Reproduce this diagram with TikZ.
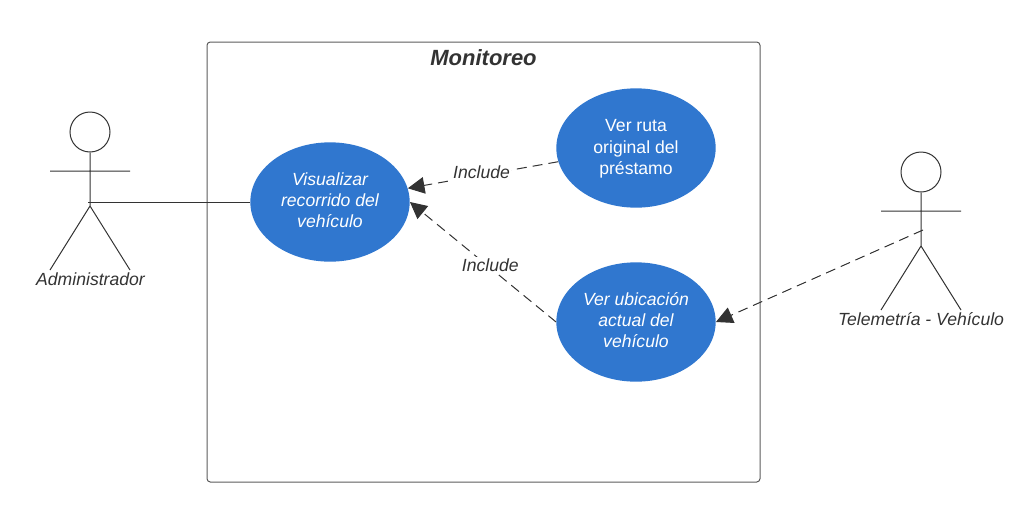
\documentclass[tikz,border=0pt]{standalone}
\usepackage{fontspec}
\setmainfont{Liberation Sans}
\usetikzlibrary{shapes.geometric, positioning, arrows.meta}

\tikzset{
    usecase/.style={ellipse, fill=caseblue, text=white, minimum width=119.5pt, minimum height=89.5pt, inner sep=0pt, align=center, font=\fontsize{13.2}{16}\selectfont},
    actorhead/.style={circle, draw=inkgray, fill=white, minimum size=30pt, inner sep=0pt, line width=0.75pt},
    actorline/.style={draw=inkgray, line width=0.75pt},
    actorname/.style={text=inkgray, inner sep=0pt, font=\fontsize{13.2}{16}\selectfont\itshape},
    includeline/.style={draw=inkgray, line width=0.75pt, dash pattern=on 7.5pt off 4.5pt, -{Triangle[length=12.5pt, width=12.5pt, fill=inkgray]}},
    includename/.style={fill=white, text=inkgray, inner xsep=1pt, inner ysep=1.5pt, font=\fontsize{13.2}{16}\selectfont\itshape}
}
\definecolor{caseblue}{HTML}{3077CF}
\definecolor{inkgray}{HTML}{333333}

\begin{document}
\begin{tikzpicture}[x=0.75pt, y=-0.75pt, node distance=130.5pt, on grid]
        \useasboundingbox (0,0) rectangle (1019,507);

        %% SYSTEM BOX
        \node[draw=inkgray!80, line width=0.75pt, rounded corners=2.5pt, minimum width=414.75pt, minimum height=330pt, inner sep=0pt] (sistema) at (483.5,262) {};
        \node[text=inkgray, inner sep=0pt, font=\fontsize{16.5}{20}\selectfont\bfseries\itshape] (titulo) at (483.5,58) {Monitoreo};

        %% USE CASES
        \node[usecase] (recorrido) at (330,202) {\itshape Visualizar\\\itshape recorrido del\\\itshape vehículo\\[-13pt]};
        \node[usecase] (ruta) at (636,148) {Ver ruta\\original del\\préstamo\\[-14.5pt]};
        \node[usecase] (ubicacion) [below=of ruta] {\itshape Ver ubicación\\\itshape actual del\\\itshape vehículo\\[-13pt]};

        %% ACTOR - ADMINISTRADOR
        \node[actorhead] (adminhead) at (90,132) {};
        \coordinate (adminhip) at (90,206);
        \coordinate (adminarml) at (50,171);
        \coordinate (adminarmr) at (130,171);
        \coordinate (adminfootl) at (50,270);
        \coordinate (adminfootr) at (130,270);
        \coordinate (adminlink) at (88,202);
        \node[actorname] (adminname) at (90.5,279) {Administrador};
        \path[actorline]
            (adminhead) -- (adminhip)
            (adminarml) -- (adminarmr)
            (adminfootl) -- (adminhip) -- (adminfootr);

        %% ACTOR - TELEMETRIA
        \node[actorhead] (telehead) at (921,172) {};
        \coordinate (telehip) at (921,246);
        \coordinate (telearml) at (881,211);
        \coordinate (telearmr) at (961,211);
        \coordinate (telefootl) at (881,310);
        \coordinate (telefootr) at (961,310);
        \coordinate (telelink) at (923,230);
        \node[actorname] (telename) at (921,319) {Telemetría - Vehículo};
        \path[actorline]
            (telehead) -- (telehip)
            (telearml) -- (telearmr)
            (telefootl) -- (telehip) -- (telefootr);

        %% CONNECTORS
        \path[actorline] (adminlink) -- (adminlink -| recorrido.west);
        \draw[includeline] (ruta.190) -- node[includename, pos=0.51, yshift=2pt] {Include} (recorrido.10);
        \draw[includeline] (ubicacion.west) -- node[includename, pos=0.45, yshift=2pt] {Include} (recorrido.east);
        \draw[includeline] (telelink) -- (ubicacion.east);

    \end{tikzpicture}
\end{document}
